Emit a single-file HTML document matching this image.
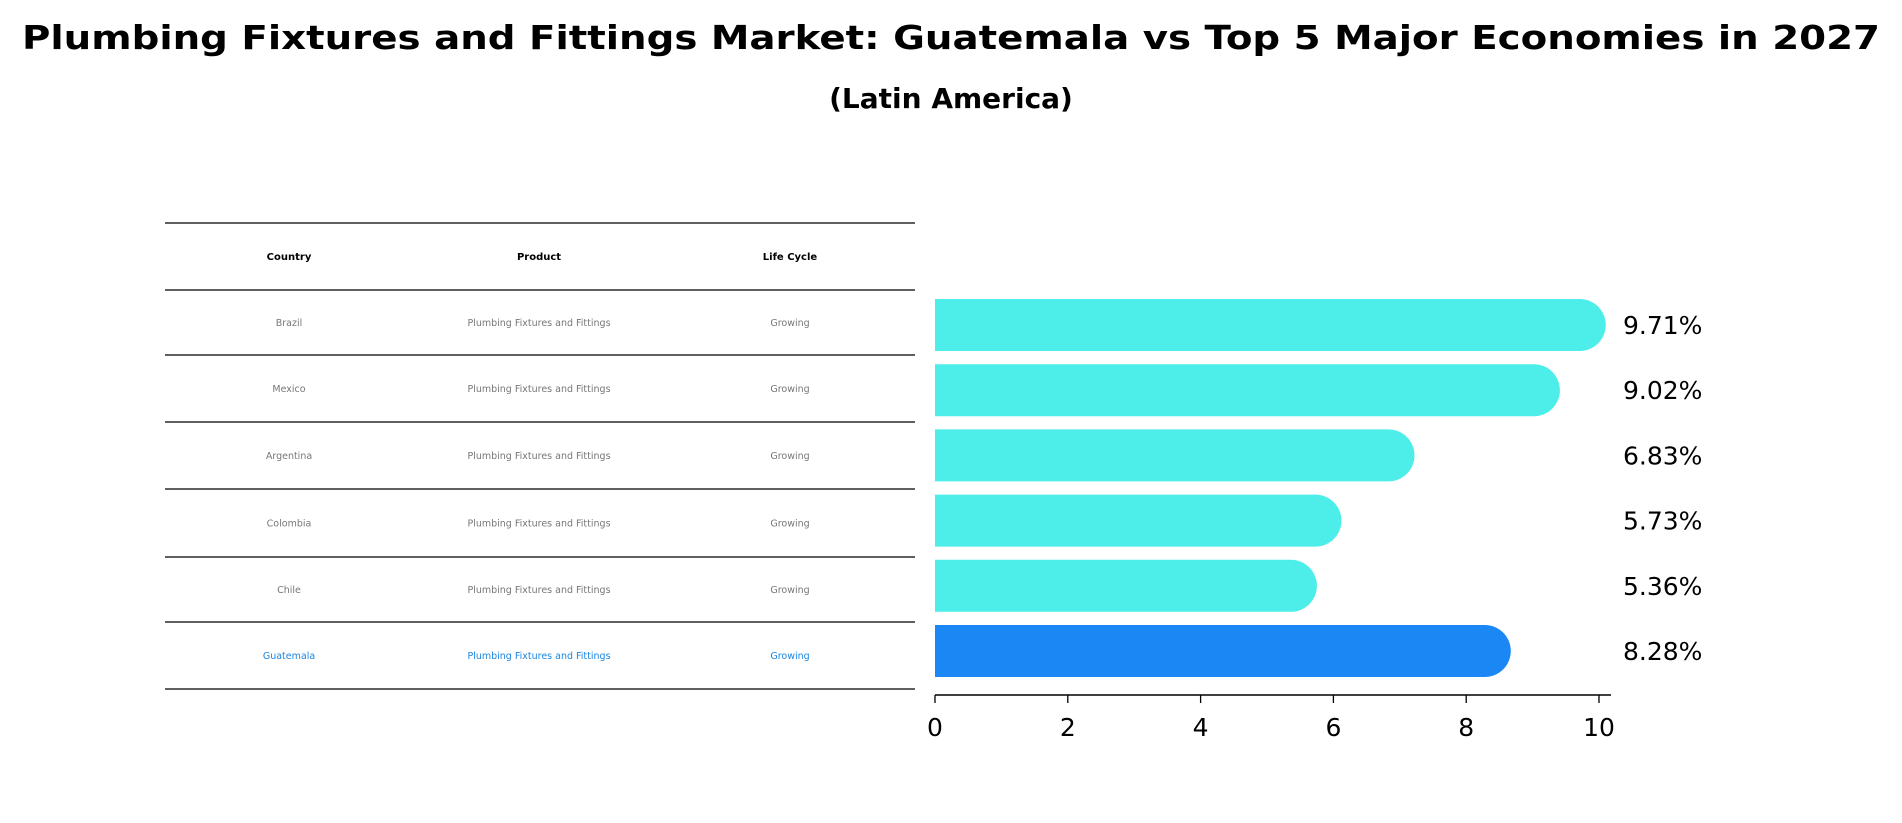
<!DOCTYPE html>
<html><head><meta charset="utf-8"><style>
html,body{margin:0;padding:0;background:#fff;}
svg{display:block;font-family:"DejaVu Sans","Liberation Sans",sans-serif;}
</style></head><body>
<svg id="chart" width="1902" height="823" viewBox="0 0 1902 823">
<text x="951" y="49" text-anchor="middle" font-size="33" font-weight="bold" textLength="1858" lengthAdjust="spacingAndGlyphs">Plumbing Fixtures and Fittings Market: Guatemala vs Top 5 Major Economies in 2027</text>
<text x="951" y="108" text-anchor="middle" font-size="28" font-weight="bold">(Latin America)</text>
<g id="table"></g>
<g id="bars"></g>
<g id="xaxis"></g>
</svg>
<script>
const countries = ["Brazil","Mexico","Argentina","Colombia","Chile","Guatemala"];
const products = ["Plumbing Fixtures and Fittings","Plumbing Fixtures and Fittings","Plumbing Fixtures and Fittings","Plumbing Fixtures and Fittings","Plumbing Fixtures and Fittings","Plumbing Fixtures and Fittings"];
const lifeCycles = ["Growing","Growing","Growing","Growing","Growing","Growing"];
const values = [9.71,9.02,6.83,5.73,5.36,8.28];
const valueLabels = ["9.71%","9.02%","6.83%","5.73%","5.36%","8.28%"];
const xTicks = [0,2,4,6,8,10];

const NS="http://www.w3.org/2000/svg";
const X0=935, PX=66.4, BH=52, R=26;
const xScale=v=>X0+v*PX;
const yScale=i=>325+i*65.2;
function mk(tag,attrs,parent){const e=document.createElementNS(NS,tag);for(const k in attrs)e.setAttribute(k,attrs[k]);parent.appendChild(e);return e;}

// table
const tbl=document.getElementById('table');
const lineYs=[223,290,355,422,489,557,622,689];
lineYs.forEach((y)=>{
  const l=mk('line',{x1:165,x2:915,y1:y,y2:y,stroke:'#000','stroke-width':1.3},tbl);
  
  
});
const colX=[289,539,790];
["Country","Product","Life Cycle"].forEach((h,j)=>{
  const t=mk('text',{x:colX[j],y:260,'text-anchor':'middle','font-size':10,'font-weight':'bold'},tbl);
  t.textContent=h;
  
  
});
countries.forEach((c,i)=>{
  const y=(lineYs[i+1]+lineYs[i+2])/2+3.5;
  const col=c==="Guatemala"?"#1a87e0":"#777";
  [c,products[i],lifeCycles[i]].forEach((v,j)=>{
    const t=mk('text',{x:colX[j],y:y,'text-anchor':'middle','font-size':9.5,fill:col},tbl);
    t.textContent=v;
    
    
  });
});

// bars
const bars=document.getElementById('bars');
values.forEach((v,i)=>{
  const cy=yScale(i), xe=xScale(v);
  const col=countries[i]==="Guatemala"?"#1a87f5":"#4deee9";
  const d=`M${X0},${cy-BH/2} L${xe},${cy-BH/2} A${R},${R} 0 0 1 ${xe},${cy+BH/2} L${X0},${cy+BH/2} Z`;
  const p=mk('path',{d:d,fill:col},bars);
  
  
  const t=mk('text',{x:1623,y:cy+9,'font-size':25},bars);
  t.textContent=valueLabels[i];
  
  
});

// x axis
const ax=document.getElementById('xaxis');
const al=mk('line',{x1:X0,x2:1611,y1:695,y2:695,stroke:'#000','stroke-width':1.6},ax);


xTicks.forEach(v=>{
  const x=xScale(v);
  const tk=mk('line',{x1:x,x2:x,y1:695,y2:703,stroke:'#000','stroke-width':1.3},ax);
  
  
  const t=mk('text',{x:x,y:736,'text-anchor':'middle','font-size':25},ax);
  t.textContent=v;
  
  
});
</script>
</body></html>
